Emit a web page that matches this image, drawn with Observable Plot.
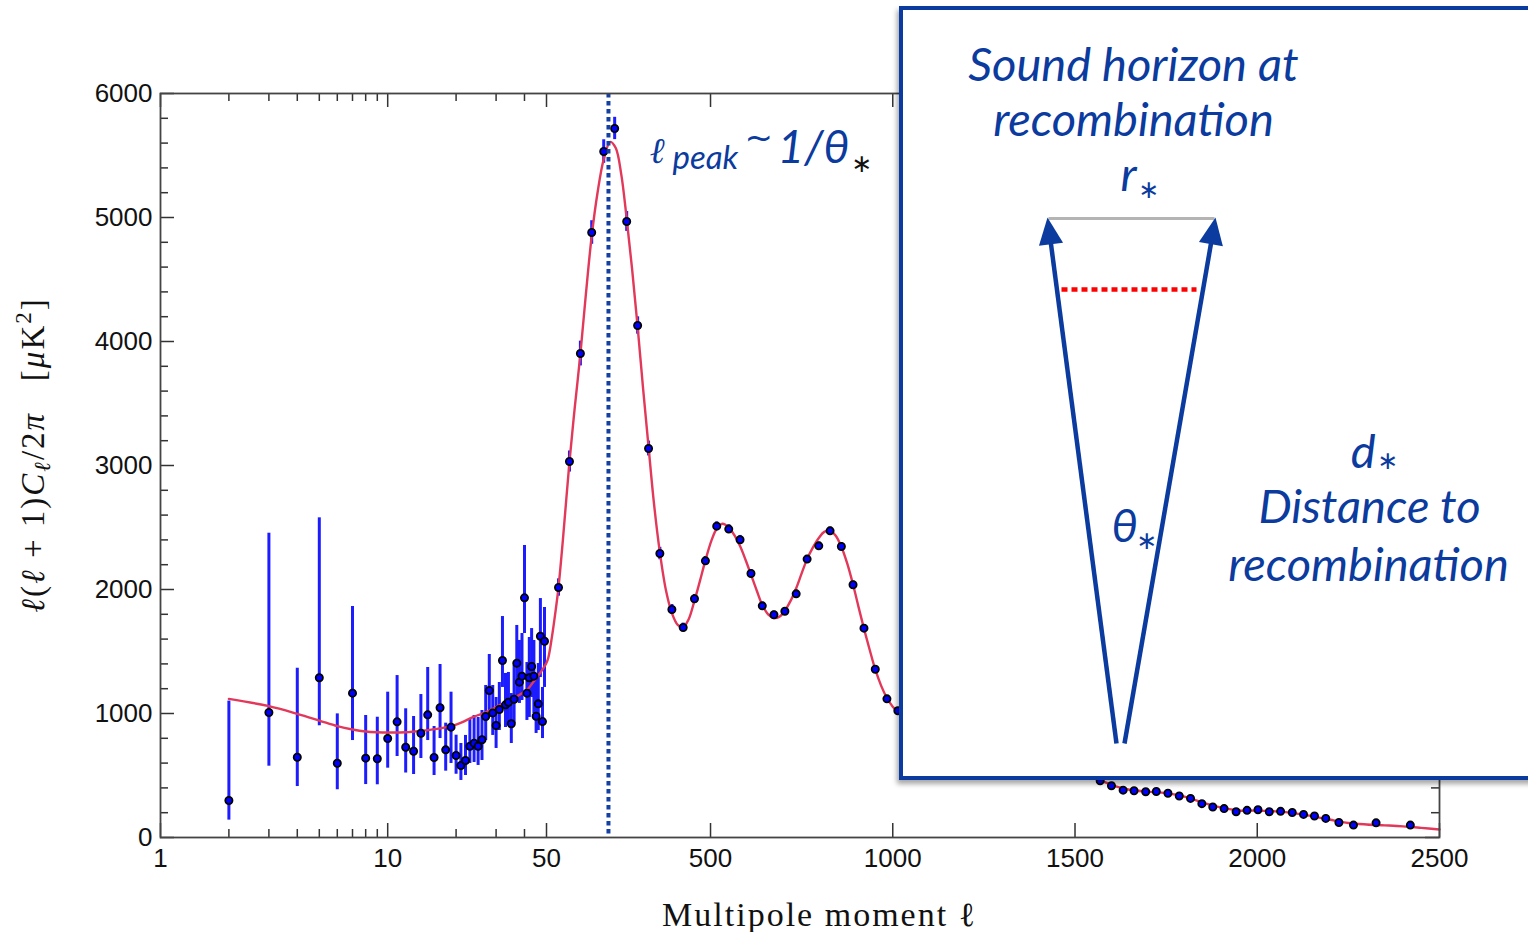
<!DOCTYPE html>
<html>
<head>
<meta charset="utf-8">
<script src="https://cdn.jsdelivr.net/npm/d3@7"></script>
<script src="https://cdn.jsdelivr.net/npm/@observablehq/plot@0.6"></script>
<style>
  html, body { margin: 0; padding: 0; background: #fff; overflow: hidden; }
  #wrap { position: relative; width: 1528px; height: 932px; overflow: hidden; background: #fff; }
  #wrap > svg { position: absolute; left: 0; top: 0; }
  #inset { position: absolute; left: 899px; top: 6px; width: 700px; height: 774px; box-sizing: border-box;
           border: 4px solid #0b3b9e; background: #fff; box-shadow: -2px 4px 5px rgba(0,0,0,0.35); }
  #ylab { position: absolute; left: 33px; top: 455px; transform: translate(-50%, -50%) rotate(-90deg);
          font-family: "Liberation Serif", serif; font-size: 33px; letter-spacing: 2px; white-space: nowrap; color: #111; line-height: 1; }
  #ylab sub { font-size: 0.7em; vertical-align: -0.25em; }
  #ylab sup { font-size: 0.7em; vertical-align: 0.55em; }
  #overlay { pointer-events: none; }
  #overlay g[aria-description="x-title"] text { letter-spacing: 2px; }
</style>
</head>
<body>
<div id="wrap"></div>
<script>
// ---------------- DATA ----------------
// Low-ℓ (unbinned) points with asymmetric error bars
const lowL  = [2,3,4,5,6,7,8,9,10,11,12,13,14,15,16,17,18,19,20,21,22,23,24,25,26,27,28,29,30,31,32,33,34,35,36,37,38,39,40,41,42,43,44,45,46,47,48,49];
const lowD  = [298,1008,647,1288,599,1164,640,635,798,933,728,696,841,989,645,1046,707,890,661,581,621,736,761,736,788,976,1185,1005,903,1032,1427,1070,1091,917,1115,1406,1253,1301,1933,1164,1288,1379,1301,978,1078,1623,935,1583];
const lowLo = [140,575,411,901,385,782,427,425,559,653,520,508,637,782,500,798,535,597,510,460,500,597,605,581,621,782,968,823,718,863,1210,887,903,758,919,1129,1081,1105,1645,944,968,1129,1000,839,863,1290,798,1210];
const lowHi = [1100,2454,1365,2578,997,1863,984,970,1172,1306,1038,976,1153,1371,895,1395,922,1172,825,758,823,960,984,968,1024,1226,1476,1226,1129,1250,1782,1323,1331,1161,1387,1710,1589,1645,2355,1411,1613,1685,1589,1290,1403,1927,1210,1855];

// High-ℓ (binned) points with symmetric error bars
const highL   = [83,113,143,174,207,237,270,300,330,361,394,425,456,486,517,550,581,611,642,674,704,735,765,797,828,859,891,921,952,984,1014,
                 1569,1600,1632,1662,1694,1723,1755,1786,1817,1848,1878,1909,1942,1972,2002,2033,2064,2096,2127,2157,2188,2224,2264,2326,2420];
const highD   = [2016,3032,3903,4879,5532,5718,4968,4129,3137,2290,1839,1694,1925,2231,2511,2487,2401,2129,1868,1796,1825,1965,2245,2352,2473,2347,2038,1688,1357,1118,1022,
                 458,417,382,377,369,371,357,335,315,273,246,233,208,219,224,208,211,202,186,173,154,121,100,118,100];
const highErr = [70,85,100,95,95,90,80,70,60,50,40,35,35,35,35,35,35,30,30,30,30,30,30,30,30,30,30,25,25,25,25,
                 20,20,20,20,20,18,18,18,18,18,18,18,18,18,18,18,18,18,18,18,18,18,18,18,18];

// Best-fit model curve
const curveL = [2,3,4,5,6,7,8,9,10,12,14,17,20,24,27,31,36,41,44,47,50,
                55,65,75,83,95,113,128,143,158,174,190,207,225,240,255,270,285,300,315,330,345,361,378,394,410,425,440,456,471,486,502,517,533,550,565,581,596,611,627,642,658,674,689,704,720,735,750,765,781,797,812,828,843,859,875,891,906,921,937,952,968,984,1000,1014,1030,
                1570,1600,1650,1700,1750,1800,1850,1900,1950,2000,2050,2100,2150,2200,2250,2300,2350,2400,2450,2500];
const curveD = [1118,1059,997,943,898,871,855,849,847,849,860,880,910,975,1010,1065,1125,1190,1260,1330,1410,
                1450,1620,1830,2020,2400,3030,3480,3900,4380,4850,5200,5470,5610,5560,5350,4990,4580,4120,3620,3150,2690,2300,1990,1810,1715,1695,1760,1910,2070,2235,2390,2490,2530,2500,2440,2350,2240,2120,1990,1875,1800,1770,1780,1830,1910,2010,2130,2245,2340,2415,2465,2475,2435,2345,2210,2040,1860,1685,1510,1355,1225,1125,1055,1015,990,
                460,425,385,370,358,330,282,243,218,217,211,197,172,143,117,105,98,90,78,65];

// Axis ticks
const xMajorTicks  = [1,10,50,500,1000,1500,2000,2500];
const xMajorLabels = ["1","10","50","500","1000","1500","2000","2500"];
const xMinorTicks  = [2,3,4,5,6,7,8,9,20,30,40];
const yMajorTicks  = [0,1000,2000,3000,4000,5000,6000];
const yMinorTicks  = [200,400,600,800,1200,1400,1600,1800,2200,2400,2600,2800,3200,3400,3600,3800,4200,4400,4600,4800,5200,5400,5600,5800];
const lPeak = 220;

// ---------------- SCALE: hybrid log(ℓ≤50) / linear(ℓ>50) ----------------
const L_BREAK = 50, L_MAX = 2500, LOG_FRAC = 0.3018;
const hx = (l) => l <= L_BREAK
  ? LOG_FRAC * Math.log10(l) / Math.log10(L_BREAK)
  : LOG_FRAC + (1 - LOG_FRAC) * (l - L_BREAK) / (L_MAX - L_BREAK);

// ---------------- TABLES ----------------
const lowRows   = lowL.map((l, i) => ({l, v: lowD[i], lo: lowLo[i], hi: lowHi[i]}));
const highRows  = highL.map((l, i) => ({l, v: highD[i], lo: highD[i] - highErr[i], hi: highD[i] + highErr[i]}));
const curveRows = curveL.map((l, i) => ({l, v: curveD[i]}));
const pointRows = lowRows.concat(highRows);
const xLabelMap = new Map(xMajorTicks.map((t, i) => [hx(t), xMajorLabels[i]]));

// ---------------- LAYOUT ----------------
const W = 1528, H = 932;
const M = {top: 93, right: 89, bottom: 95, left: 160};
const innerW = W - M.left - M.right;
const innerH = H - M.top - M.bottom;
const MAJ = 14, MIN = 8;
const TICK = {stroke: "#333", strokeWidth: 1.5};
const BAR = "#1c1cff";
const BLUE = "#0b3b9e";
const AX_FONT = "Liberation Sans, Arial, sans-serif";

const main = Plot.plot({
  width: W, height: H,
  marginTop: M.top, marginRight: M.right, marginBottom: M.bottom, marginLeft: M.left,
  x: {domain: [0, 1]},
  y: {domain: [0, 6000]},
  style: {background: "transparent", color: "#111", fontFamily: AX_FONT},
  marks: [
    Plot.ruleX(lowRows,  {x: d => hx(d.l), y1: "lo", y2: "hi", stroke: BAR, strokeWidth: 3}),
    Plot.ruleX(highRows, {x: d => hx(d.l), y1: "lo", y2: "hi", stroke: BAR, strokeWidth: 3}),
    Plot.line(curveRows, {x: d => hx(d.l), y: "v", stroke: "#e2385a", strokeWidth: 2.4, curve: "catmull-rom"}),
    Plot.dot(pointRows, {x: d => hx(d.l), y: "v", r: 3.6, fill: "#0000ff", stroke: "#000", strokeWidth: 1.8}),
    Plot.ruleX([lPeak], {x: hx, stroke: "#1440a5", strokeWidth: 4, strokeDasharray: "4.5,3.5"}),
    // inward ticks, bottom & top
    Plot.tickX(xMajorTicks, {x: hx, ...TICK, insetTop: innerH - MAJ}),
    Plot.tickX(xMinorTicks, {x: hx, ...TICK, insetTop: innerH - MIN}),
    Plot.tickX(xMajorTicks, {x: hx, ...TICK, insetBottom: innerH - MAJ}),
    Plot.tickX(xMinorTicks, {x: hx, ...TICK, insetBottom: innerH - MIN}),
    // inward ticks, left & right
    Plot.tickY(yMajorTicks, {y: d => d, ...TICK, insetRight: innerW - MAJ}),
    Plot.tickY(yMinorTicks, {y: d => d, ...TICK, insetRight: innerW - MIN}),
    Plot.tickY(yMajorTicks, {y: d => d, ...TICK, insetLeft: innerW - MAJ}),
    Plot.tickY(yMinorTicks, {y: d => d, ...TICK, insetLeft: innerW - MIN}),
    Plot.frame({stroke: "#444", strokeWidth: 1.8}),
    Plot.axisX(xMajorTicks.map(hx), {tickSize: 0, tickPadding: 11, tickFormat: d => xLabelMap.get(d), fontSize: 26, fontFamily: AX_FONT, label: null}),
    Plot.axisY(yMajorTicks, {tickSize: 0, tickPadding: 8, tickFormat: d => String(d), fontSize: 26, fontFamily: AX_FONT, label: null})
  ]
});

// ---------------- ANNOTATION LAYER (page pixel coordinates) ----------------
const arrows = [
  {x1: 1116, y1: 743, x2: 1047, y2: 217},
  {x1: 1124, y1: 743, x2: 1215, y2: 217}
];
const HEAD = 27;
const arrowRows = arrows.map(a => {
  const dx = a.x2 - a.x1, dy = a.y2 - a.y1, len = Math.hypot(dx, dy);
  const ux = dx / len, uy = dy / len;
  return {...a, sx: a.x2 - ux * (HEAD - 4), sy: a.y2 - uy * (HEAD - 4),
          angle: Math.atan2(dx, -dy) * 180 / Math.PI};
});
const headSymbol = {
  draw(ctx, size) {
    const r = Math.sqrt(size / Math.PI);
    ctx.moveTo(0, 0);
    ctx.lineTo(-r * 0.9, 2 * r);
    ctx.lineTo(r * 0.9, 2 * r);
    ctx.closePath();
  }
};
const topBar = [{x1: 1048, y1: 218, x2: 1214, y2: 218}];
const innerBar = [{x1: 1061, y1: 289, x2: 1196, y2: 289}];

const LATO = "Lato, 'Open Sans', sans-serif";
const annotTexts = [
  {t: "Sound horizon at", x: 1133, y: 80,  s: 47, a: "middle"},
  {t: "recombination",    x: 1133, y: 135, s: 47, a: "middle"},
  {t: "r",                x: 1136, y: 190, s: 47, a: "end"},
  {t: "θ",                x: 1111, y: 541, s: 47, a: "start"},
  {t: "d",                x: 1375, y: 467, s: 47, a: "end"},
  {t: "Distance to",      x: 1369, y: 522, s: 47, a: "middle"},
  {t: "recombination",    x: 1368, y: 580, s: 47, a: "middle"},
  {t: "peak",             x: 672,  y: 168, s: 33, a: "start"},
  {t: "1/θ",              x: 777,  y: 162, s: 46, a: "start"}
];
// subscript asterisks (∗)
const starTexts = [
  {x: 1138, y: 197, c: BLUE},
  {x: 1136, y: 548, c: BLUE},
  {x: 1377, y: 468, c: BLUE},
  {x: 851,  y: 171, c: "#111"}
];
const tildeText = [{t: "~", x: 744, y: 148}];
const ellTexts = [{t: "ℓ", x: 649, y: 162}];
const xTitle = [{t: "Multipole moment ℓ", x: 819, y: 925}];

const textByAnchor = ["start", "middle", "end"].map(a =>
  Plot.text(annotTexts.filter(d => d.a === a), {x: "x", y: "y", text: "t", fontSize: "s", textAnchor: a, fill: BLUE,
                                                 lineAnchor: "bottom", fontFamily: LATO, fontStyle: "italic"}));

const overlay = Plot.plot({
  width: W, height: H, margin: 0,
  x: {domain: [0, W], axis: null},
  y: {domain: [H, 0], axis: null},
  style: {background: "transparent", overflow: "visible"},
  marks: [
    Plot.link(topBar,   {x1: "x1", y1: "y1", x2: "x2", y2: "y2", stroke: "#b4b4b4", strokeWidth: 3}),
    Plot.link(innerBar, {x1: "x1", y1: "y1", x2: "x2", y2: "y2", stroke: "#ff0000", strokeWidth: 4.5, strokeDasharray: "6,4"}),
    Plot.link(arrowRows, {x1: "x1", y1: "y1", x2: "sx", y2: "sy", stroke: BLUE, strokeWidth: 4.5}),
    Plot.dot(arrowRows, {x: "x2", y: "y2", r: 13.5, symbol: headSymbol, rotate: "angle", fill: BLUE, stroke: "none"}),
    ...textByAnchor,
    Plot.text(starTexts, {x: "x", y: "y", text: () => "∗", fontSize: 25, textAnchor: "start", fill: "c",
                          lineAnchor: "bottom", fontFamily: "DejaVu Sans"}),
    Plot.text(tildeText, {x: "x", y: "y", text: "t", fontSize: 34, textAnchor: "start", fill: BLUE,
                          lineAnchor: "bottom", fontFamily: "DejaVu Sans"}),
    Plot.text(ellTexts, {x: "x", y: "y", text: "t", fontSize: 36, textAnchor: "start", fill: BLUE,
                         lineAnchor: "bottom", fontFamily: "DejaVu Serif", fontStyle: "italic"}),
    Plot.text(xTitle, {x: "x", y: "y", text: "t", fontSize: 34, textAnchor: "middle", fill: "#111",
                       lineAnchor: "bottom", fontFamily: "Liberation Serif, serif", ariaDescription: "x-title"})
  ]
});
overlay.id = "overlay";

const wrap = document.getElementById("wrap");
wrap.appendChild(main);
const inset = document.createElement("div");
inset.id = "inset";
wrap.appendChild(inset);
wrap.appendChild(overlay);
const ylab = document.createElement("div");
ylab.id = "ylab";
ylab.innerHTML = "<i>ℓ</i>(<i>ℓ</i> + 1)<i>C</i><sub><i>ℓ</i></sub>/2<i>π</i>&nbsp;&nbsp;&nbsp;[<i>μ</i>K<sup>2</sup>]";
wrap.appendChild(ylab);
</script>
</body>
</html>
